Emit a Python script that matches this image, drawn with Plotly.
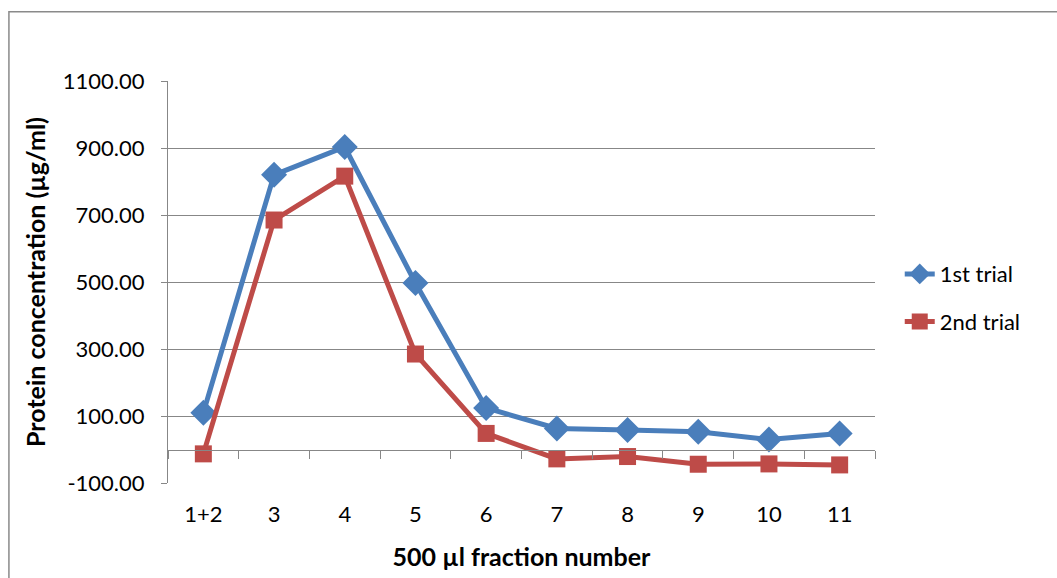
import plotly.graph_objects as go

categories = ["1+2", "3", "4", "5", "6", "7", "8", "9", "10", "11"]
trial1 = [110, 820, 903, 497, 124, 63, 58, 53, 30, 48]
trial2 = [-13, 685, 816, 285, 48, -28, -21, -44, -43, -46]
y_ticks = [-100, 100, 300, 500, 700, 900, 1100]

idx = list(range(len(categories)))
boundaries = [i - 0.5 for i in range(len(categories) + 1)]

FONT = "Lato, 'Open Sans', sans-serif"
GRID = "#878787"

fig = go.Figure()
fig.add_trace(go.Scatter(
    x=idx, y=trial1, name="1st trial", mode="lines+markers",
    line=dict(color="#4A7EBB", width=5),
    marker=dict(symbol="diamond", size=20, color="#4A7EBB"),
    legendgroup="a",
))
fig.add_trace(go.Scatter(
    x=idx, y=trial2, name="2nd trial", mode="lines+markers",
    line=dict(color="#BE4B48", width=5),
    marker=dict(symbol="square", size=17, color="#BE4B48"),
    legendgroup="b",
))
# invisible trace on overlay axis for zero-line with boundary ticks
fig.add_trace(go.Scatter(x=[boundaries[0], boundaries[-1]], y=[None, None],
                         xaxis="x2", showlegend=False, hoverinfo="skip"))

fig.update_layout(
    width=1057, height=578,
    margin=dict(l=168, r=182, t=81, b=95),
    paper_bgcolor="white", plot_bgcolor="white",
    font=dict(family=FONT, size=22, color="#000"),
    xaxis=dict(
        range=[boundaries[0], boundaries[-1]],
        tickmode="array", tickvals=idx, ticktext=categories,
        showgrid=False, zeroline=False, showline=False, ticks="",
        ticklabelstandoff=16,
        title=dict(text="<b>500 µl fraction number</b>", font=dict(size=25), standoff=22),
    ),
    xaxis2=dict(
        overlaying="x", anchor="free",
        position=(0 - y_ticks[0]) / (y_ticks[-1] - y_ticks[0]),
        range=[boundaries[0], boundaries[-1]],
        tickmode="array", tickvals=boundaries, showticklabels=False,
        ticks="outside", ticklen=8, tickcolor=GRID, tickwidth=1,
        showline=True, linecolor=GRID, linewidth=1,
        showgrid=False, zeroline=False,
    ),
    yaxis=dict(
        range=[y_ticks[0], y_ticks[-1]],
        tickmode="array", tickvals=y_ticks,
        ticktext=[f"{v:.2f}" for v in y_ticks],
        showgrid=True, gridcolor=GRID, gridwidth=1,
        zeroline=False, showline=True, linecolor=GRID, linewidth=1,
        ticks="outside", ticklen=6, tickcolor=GRID,
        ticklabelstandoff=12,
        title=dict(text="<b>Protein concentration (µg/ml)</b>", font=dict(size=25), standoff=10),
    ),
    legend=dict(
        x=1.035, y=0.46, xanchor="left", yanchor="middle",
        font=dict(size=22), tracegroupgap=16, bgcolor="rgba(0,0,0,0)",
    ),
    showlegend=True,
)

# outer chart border
fig.add_shape(type="rect", xref="paper", yref="paper",
              x0=-0.225, x1=1.6, y0=-0.6, y1=1.172,
              line=dict(color="#8a8a8a", width=1.5), fillcolor="rgba(0,0,0,0)", layer="below")

fig.write_html("out.html")
